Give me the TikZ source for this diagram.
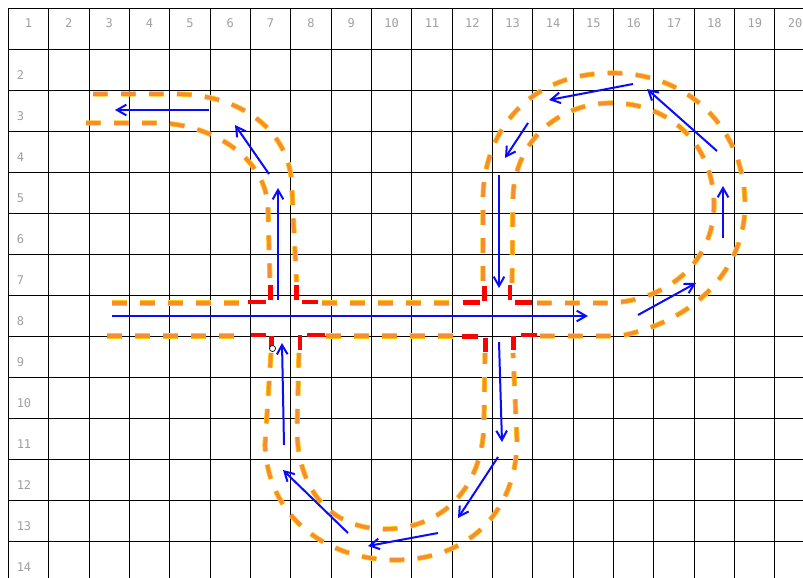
\documentclass[tikz,border=0pt]{standalone}
\usepackage{fontspec}
\newfontfamily\labelfont{DejaVu Sans Mono}
\usetikzlibrary{arrows.meta}
\definecolor{labelgray}{RGB}{160,160,160}
\definecolor{lanefill}{RGB}{247,140,52}
\definecolor{laneedge}{RGB}{255,204,0}
\definecolor{cornerred}{RGB}{255,0,0}
\definecolor{flowblue}{RGB}{10,10,255}
\tikzset{
  gridline/.style={draw=black, line width=0.75pt},
  collabel/.style={inner sep=0pt, text=labelgray, font=\labelfont\fontsize{9pt}{9pt}\selectfont},
  rowlabel/.style={collabel, anchor=west},
  lane/.style={draw=lanefill, line width=2.7pt, dash pattern=on 11pt off 10pt,
    preaction={draw=laneedge, line width=3.9pt, dash pattern=on 11pt off 10pt}},
  corner/.style={draw=cornerred, line width=3.6pt},
  flow/.style={draw=flowblue, line width=1.5pt, -{Straight Barb[length=7pt,width=8pt,line width=1.5pt]}},
}
\begin{document}
\begin{tikzpicture}[x=0.75pt,y=-0.75pt]
\useasboundingbox (0,0) rectangle (803,578);
\fill[white] (0,0) rectangle (803,578);
\begin{scope}
\clip (0,0) rectangle (803,578);
\foreach \i in {0,...,19} \draw[gridline] ({8.3+40.35*\i},8.3) -- ({8.3+40.35*\i},580);
\foreach \k in {0,...,13} \draw[gridline] (8.3,{8.3+41*\k}) -- (805,{8.3+41*\k});
\end{scope}
\foreach \i in {1,...,20} \node[collabel] (c\i) at ({8.3+40.35*(\i-0.5)},23.3) {\i};
\foreach \r in {2,...,14} \node[rowlabel] (r\r) at (16.5,{8.3+41*(\r-1)+25.5}) {\r};
% orange lanes
\draw[lane] (112,303) -- (244,303);
\draw[lane] (322,303) -- (458,303);
\draw[lane] (537,303) -- (610,303) .. controls (670,300) and (714,260) .. (714,205) .. controls (714,145) and (670,103) .. (612,103) .. controls (555,103) and (513,145) .. (513,200) -- (512,283);
\draw[lane] (107,336) -- (246,336);
\draw[lane] (326,336) -- (458,336);
\draw[lane] (540,336) -- (620,336) .. controls (700,320) and (745,265) .. (745,205) .. controls (745,130) and (690,73) .. (612,73) .. controls (530,73) and (483,130) .. (483,200) -- (483,283);
\draw[lane] (86,123) -- (160,123) .. controls (215,125) and (268,160) .. (268,210) -- (270,282);
\draw[lane] (93,94) -- (175,94) .. controls (240,94) and (292,130) .. (292,190) -- (296.5,282);
\draw[lane] (271,353) -- (265,445) .. controls (268,520) and (330,560) .. (395,560) .. controls (470,560) and (517,510) .. (517,440) -- (513,353);
\draw[lane] (299,353) -- (297,430) .. controls (298,495) and (335,529) .. (385,529) .. controls (440,529) and (484,490) .. (484,420) -- (485,353);
% red corners, left crossing
\draw[corner] (248,302) -- (266,302);
\draw[corner] (270.7,300) -- (270.7,285);
\draw[corner] (296.7,300) -- (296.7,285);
\draw[corner] (302,302) -- (318,302);
\draw[corner] (250.7,335) -- (266,335);
\draw[corner] (271.7,336) -- (271.7,348);
\draw[corner] (300,335) -- (300,350);
\draw[corner] (307,335) -- (325,335);
% red corners, right crossing
\draw[corner] (462.7,302.7) -- (480,302.7);
\draw[corner] (484.3,301) -- (484.3,286);
\draw[corner] (510,300) -- (510,285);
\draw[corner] (515,302.7) -- (531.7,302.7);
\draw[corner] (461.7,336.7) -- (478.3,336.7);
\draw[corner] (485.7,338) -- (485.7,351.7);
\draw[corner] (513.3,336) -- (513.3,350);
\draw[corner] (521,335) -- (537.3,335);
% blue flow arrows
\draw[flow] (112,316) -- (588,316);
\draw[flow] (278,300) -- (278,188);
\draw[flow] (269,174) -- (235,125);
\draw[flow] (209,110) -- (115,110);
\draw[flow] (284,445) -- (282,343);
\draw[flow] (348,533) -- (283,470);
\draw[flow] (438,533) -- (368,546);
\draw[flow] (498,457) -- (458,518);
\draw[flow] (499,342) -- (502,442);
\draw[flow] (499,175) -- (499,288);
\draw[flow] (528,123) -- (505,158);
\draw[flow] (633,84) -- (549,100);
\draw[flow] (717,151) -- (647,89);
\draw[flow] (723,238) -- (723,186);
\draw[flow] (638,315) -- (696,283);
% small marker
\draw[black, line width=0.5pt, fill=white] (272.5,348.5) circle[radius=2.3pt];
\end{tikzpicture}
\end{document}
